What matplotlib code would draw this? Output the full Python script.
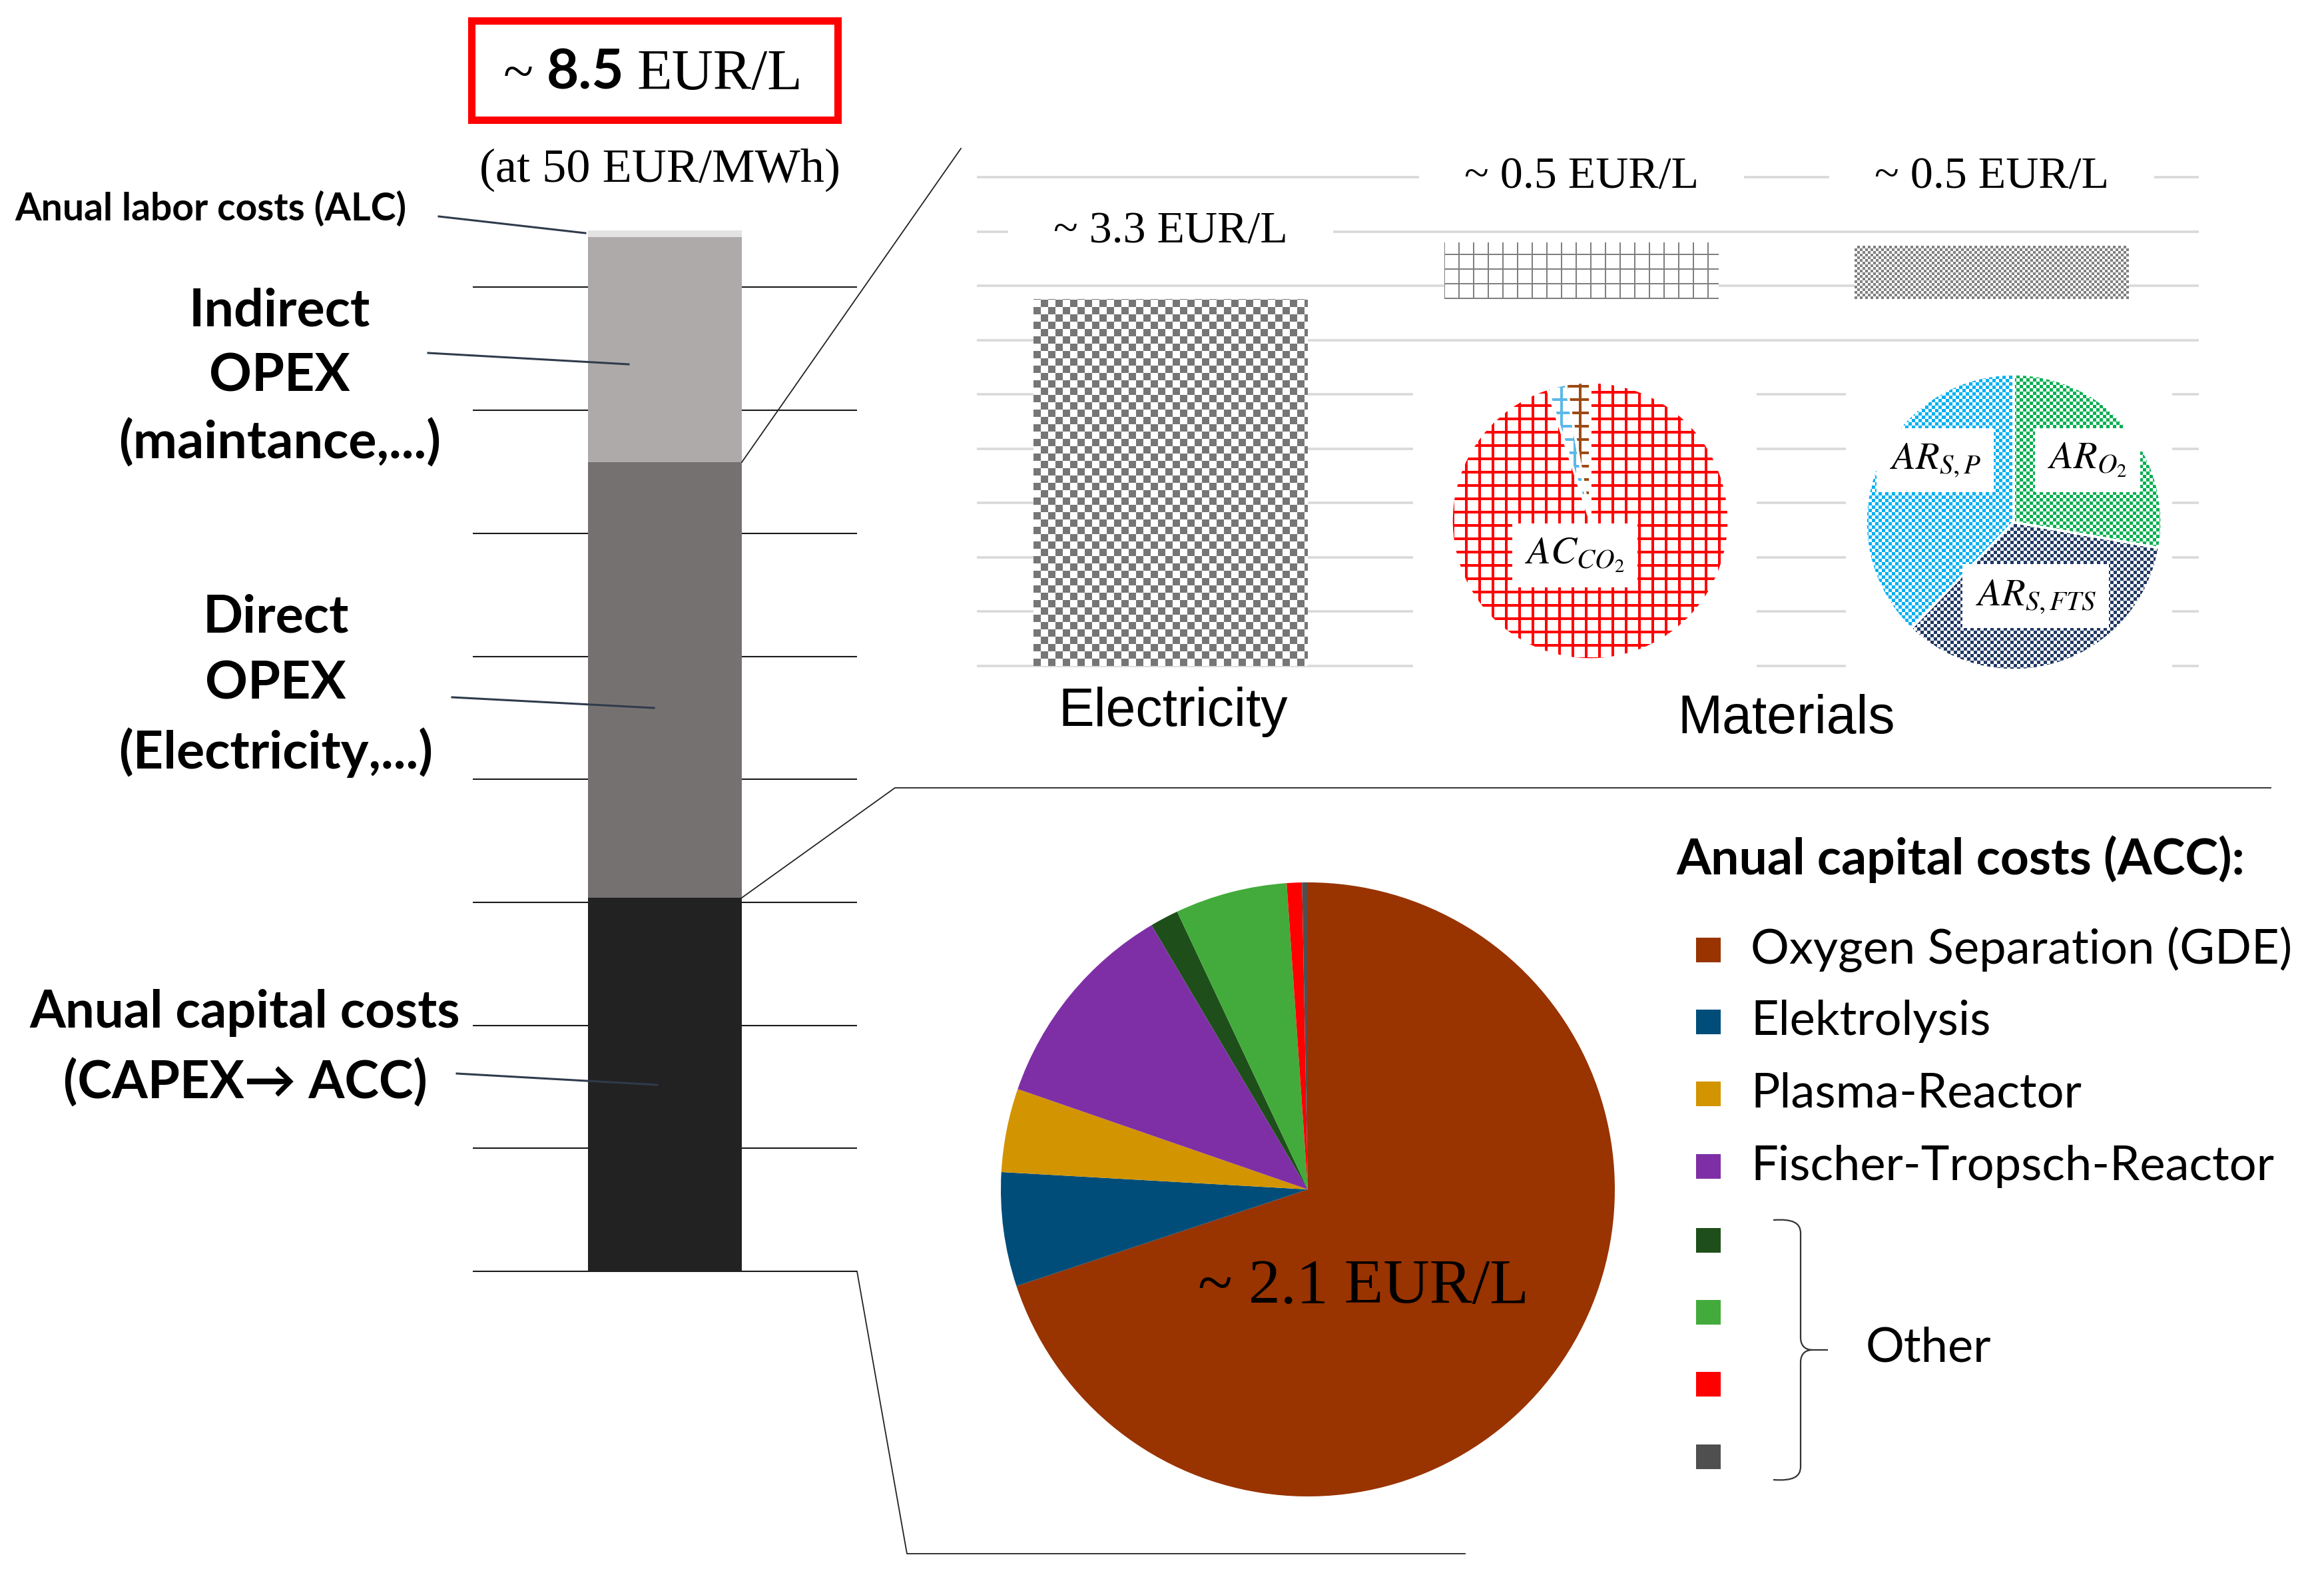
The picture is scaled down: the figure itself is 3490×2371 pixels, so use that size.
import numpy as np
import matplotlib
matplotlib.use("Agg")
import matplotlib.pyplot as plt
from matplotlib.colors import to_rgba
from matplotlib.patches import Rectangle, PathPatch
from matplotlib.path import Path
from matplotlib.lines import Line2D
from matplotlib.text import Annotation
from matplotlib.transforms import Affine2D

W, H = 3491, 2371

# total cost bar, EUR/L (bottom to top)
total_parts = ["ACC", "Direct OPEX", "Indirect OPEX", "ALC"]
total_values = [3.04, 3.54, 1.83, 0.05]
total_colors = ["#222222", "#767171", "#AEAAAA", "#E4E3E3"]

# direct OPEX split, EUR/L
opex_items = ["Electricity", "Materials CO2", "Materials rest"]
opex_values = [3.38, 0.52, 0.49]
opex_labels = ["~ 3.3 EUR/L", "~ 0.5 EUR/L", "~ 0.5 EUR/L"]

# material shares, %
co2_shares = [95.0, 2.2, 2.8]
co2_colors = ["#FF0000", "#5BB8E6", "#9C4A14"]
rest_shares = [27.8, 34.4, 37.8]
rest_colors = ["#00B050", "#203864", "#00B0F0"]

# annual capital costs, %
acc_names = ["Oxygen Separation (GDE)", "Elektrolysis", "Plasma-Reactor",
             "Fischer-Tropsch-Reactor", "", "", "", ""]
acc_shares = [69.9, 6.0, 4.4, 11.2, 1.5, 5.9, 0.8, 0.3]
acc_colors = ["#993300", "#004D7A", "#D29400", "#7F2FA6",
              "#1E4F1B", "#43AB3B", "#FF0000", "#4F4F4F"]

plt.rcParams["mathtext.fontset"] = "stix"
SERIF = "Liberation Serif"
BOLD = ["Lato", "DejaVu Sans"]

fig = plt.figure(figsize=(W / 100, H / 100), dpi=100)
fig.patch.set_facecolor("white")
px = Affine2D().scale(1 / W, -1 / H).translate(0, 1) + fig.transFigure


def add_ax(x0, y0, x1, y1):
    return fig.add_axes([x0 / W, 1 - y1 / H, (x1 - x0) / W, (y1 - y0) / H])


def bare(ax):
    for s in ax.spines.values():
        s.set_visible(False)
    ax.tick_params(length=0, labelleft=False, labelbottom=False)
    ax.set_xticks([])


def line(xs, ys, **kw):
    fig.add_artist(Line2D(xs, ys, transform=px, **kw))


def ftext(x, y, s, **kw):
    return fig.text(x, y, s, transform=px, **kw)


def pattern(ax, patch, color, kind, cell, step=2):
    # fill a patch with a pixel pattern (checker or grid)
    bb = patch.get_window_extent()
    x0, y0 = np.floor(bb.x0), np.floor(bb.y0)
    nx = int(np.ceil((bb.x1 - x0) / cell)) + 1
    ny = int(np.ceil((bb.y1 - y0) / cell)) + 1
    jj, ii = np.meshgrid(np.arange(nx), np.arange(ny))
    if kind == "checker":
        on = (ii + jj) % 2 == 0
    else:
        on = (ii % step == 0) | (jj % step == 0)
    img = np.zeros((ny, nx, 4))
    img[on] = to_rgba(color)
    inv = ax.transData.inverted()
    (ex0, ey0), (ex1, ey1) = inv.transform([(x0, y0), (x0 + nx * cell, y0 + ny * cell)])
    im = ax.imshow(img, extent=(ex0, ex1, ey0, ey1), origin="lower",
                   interpolation="nearest", aspect="auto",
                   zorder=patch.get_zorder() + 0.5)
    im.set_clip_path(patch)


# ---------- left: total cost stacked bar ----------
axL = add_ax(710, 320.6, 1287, 1927.5)
axL.set_xlim(0, 1)
axL.set_ylim(-0.1, 8.6)
axL.set_yticks(range(9))
axL.grid(axis="y", color="#1a1a1a", lw=1.5)
axL.set_axisbelow(True)
bare(axL)
bottoms = np.concatenate([[0], np.cumsum(total_values)[:-1]])
axL.bar([0.5] * 4, total_values, bottom=bottoms, width=0.402,
        color=total_colors, zorder=2)

# title box
fig.add_artist(Rectangle((708, 31), 550, 149, transform=px, fill=False,
                         edgecolor="#FF0000", lw=8))
t1 = ftext(756, 134, "~", family=SERIF, fontsize=60, va="baseline")
t2 = Annotation("8.5", xy=(1, 134), xycoords=(t1, px), xytext=(14, 0),
                textcoords="offset points", va="baseline", family=BOLD,
                fontweight="bold", fontsize=60)
fig.add_artist(t2)
t3 = Annotation("EUR/L", xy=(1, 134), xycoords=(t2, px), xytext=(14, 0),
                textcoords="offset points", va="baseline", family=SERIF,
                fontsize=62)
fig.add_artist(t3)
ftext(991, 255, "(at 50 EUR/MWh)", family=SERIF, fontsize=52,
      ha="center", va="center")

# left labels with leader lines
ftext(22, 314, "Anual labor costs (ALC)", family=BOLD, fontweight="bold",
      fontsize=41, va="center")
for s, y in zip(["Indirect", "OPEX", "(maintance,...)"], [468, 565, 665]):
    ftext(420, y, s, family=BOLD, fontweight="bold", fontsize=57,
          ha="center", va="center")
for s, y in zip(["Direct", "OPEX", "(Electricity,...)"], [928, 1027, 1130]):
    ftext(414, y, s, family=BOLD, fontweight="bold", fontsize=57,
          ha="center", va="center")
for s, y in zip(["Anual capital costs", "(CAPEX\u2192 ACC)"], [1521, 1626]):
    ftext(368, y, s, family=BOLD, fontweight="bold", fontsize=56,
          ha="center", va="center")
lead = dict(color="#2F3B4C", lw=2.2)
line([659, 879], [325, 350], **lead)
line([643, 944], [530, 547], **lead)
line([679, 982], [1047, 1063], **lead)
line([686, 987], [1612, 1629], **lead)

# connectors
con = dict(color="#222222", lw=1.3)
line([1114, 1443], [694, 223], **con)
line([1114, 1344, 3410], [1348, 1183, 1183], **con)
line([1287, 1362, 2200], [1909, 2333, 2333], **con)

# ---------- top right: direct OPEX ----------
axT = add_ax(1467, 217.2, 3302, 1007.7)
axT.set_xlim(-0.472, 2.504)
axT.set_ylim(-0.05, 4.8)
axT.set_yticks(np.arange(0, 5, 0.5))
axT.grid(axis="y", color="#D9D9D9", lw=2.6)
axT.set_axisbelow(True)
bare(axT)
bw = 0.668
elec = axT.bar([0], opex_values[:1], width=bw, color="white", lw=0, zorder=2)
mats = axT.bar([1, 2], opex_values[1:], bottom=opex_values[0], width=bw,
               color="white", lw=0, zorder=2)
pattern(axT, elec[0], "#767676", "checker", 11)
pattern(axT, mats[0], "#7F7F7F", "grid", 2, step=11)
pattern(axT, mats[1], "#808080", "checker", 4)
axT.set_xlim(-0.472, 2.504)
axT.set_ylim(-0.05, 4.8)
for x, s, y in zip([0, 1, 2], opex_labels, [4.0, 4.5, 4.5]):
    axT.text(x, y, "\u2003" + s + "\u2003", family=SERIF, fontsize=49,
             ha="center", va="center", zorder=5,
             bbox=dict(facecolor="white", edgecolor="none", pad=0))

ftext(1762, 1069, "Electricity", family="Liberation Sans", fontsize=58,
      ha="center", va="center")
ftext(2683, 1080, "Materials", family="Liberation Sans", fontsize=58,
      ha="center", va="center")


def pattern_pie(rect, lims, shares, colors, kind, cell, step, labels):
    ax = add_ax(*rect)
    wedges, _ = ax.pie(shares, colors=["white"] * len(shares), startangle=90,
                       counterclock=False, wedgeprops=dict(lw=0))
    ax.set_aspect("auto")
    ax.set_xlim(lims[0])
    ax.set_ylim(lims[1])
    for w, c in zip(wedges, colors):
        pattern(ax, w, c, kind, cell, step)
    ax.pie(shares, colors=["none"] * len(shares), startangle=90,
           counterclock=False,
           wedgeprops=dict(edgecolor="white", lw=2.5, zorder=3))
    ax.set_aspect("auto")
    ax.set_xlim(lims[0])
    ax.set_ylim(lims[1])
    ax.set_frame_on(True)
    ax.set_facecolor("white")
    bare(ax)
    ax.set_yticks([])
    for s, x, y in labels:
        ax.text(x, y, s, fontsize=42, ha="center", va="center", zorder=6,
                bbox=dict(facecolor="white", edgecolor="none", pad=14))
    return ax


pattern_pie((2122, 560, 2638, 1010), ((-1.279, 1.202), (-1.096, 1.067)),
            co2_shares, co2_colors, "grid", 4, 5,
            [(r"$AC_{CO_2}$", -0.11, -0.25)])
pattern_pie((2772, 560, 3262, 1010), ((-1.135, 1.072), (-1.018, 1.009)),
            rest_shares, rest_colors, "checker", 5, 2,
            [(r"$AR_{S,P}$", -0.53, 0.42), (r"$AR_{O_2}$", 0.50, 0.42),
             (r"$AR_{S,FTS}$", 0.15, -0.50)])

# ---------- bottom: annual capital costs pie ----------
axP = add_ax(1464, 1286, 2464, 2286)
axP.pie(acc_shares, colors=acc_colors, startangle=90, counterclock=False,
        wedgeprops=dict(lw=0))
axP.set_aspect("auto")
axP.set_xlim(-500 / 461, 500 / 461)
axP.set_ylim(-500 / 461, 500 / 461)
axP.text(0.18, -0.32, "~ 2.1 EUR/L", family=SERIF, fontsize=69,
         ha="center", va="center")

# legend
ftext(2517, 1290, "Anual capital costs (ACC):", family=BOLD,
      fontweight="bold", fontsize=54, va="center")
key_y = [1426, 1534, 1642, 1751, 1862, 1970, 2078, 2187]
for name, c, y in zip(acc_names, acc_colors, key_y):
    fig.add_artist(Rectangle((2547, y - 18), 37, 37, transform=px,
                             facecolor=c, edgecolor="none"))
    if name:
        ftext(2629, y, name, family="Lato", fontsize=52, va="center")
verts = [(2663, 1832), (2692, 1830), (2704, 1836), (2704, 1852),
         (2704, 2008), (2704, 2020), (2710, 2027), (2722, 2027),
         (2745, 2027),
         (2722, 2027), (2710, 2027), (2704, 2034), (2704, 2046),
         (2704, 2202), (2704, 2218), (2692, 2224), (2663, 2222)]
codes = [Path.MOVETO, Path.CURVE4, Path.CURVE4, Path.CURVE4,
         Path.LINETO, Path.CURVE4, Path.CURVE4, Path.CURVE4,
         Path.LINETO,
         Path.MOVETO, Path.CURVE4, Path.CURVE4, Path.CURVE4,
         Path.LINETO, Path.CURVE4, Path.CURVE4, Path.CURVE4]
fig.add_artist(PathPatch(Path(verts, codes), transform=px, fill=False,
                         edgecolor="#333333", lw=1.6))
ftext(2802, 2024, "Other", family="Lato", fontsize=52, va="center")

fig.savefig("out.png", dpi=100, facecolor="white")
